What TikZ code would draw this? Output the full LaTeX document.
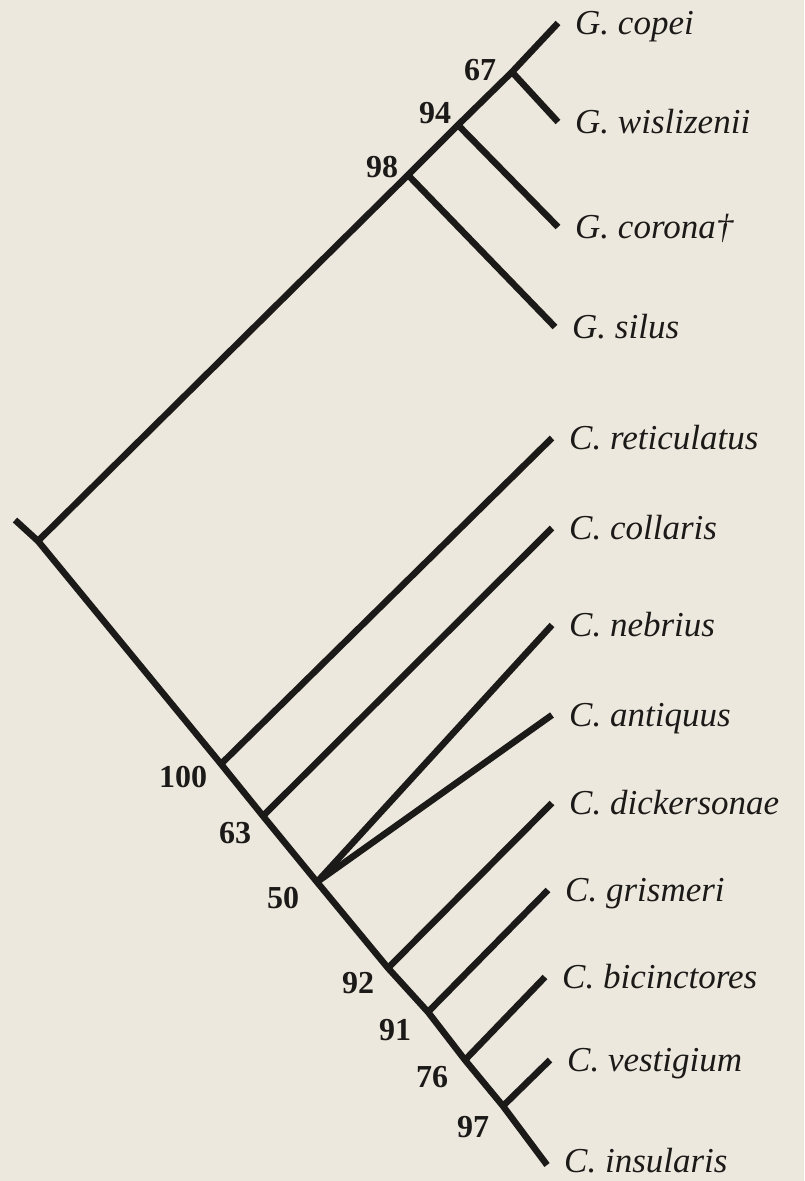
\documentclass[tikz,border=0pt]{standalone}
\usepackage{fontspec}
\setmainfont{Liberation Serif}
\definecolor{paper}{RGB}{236,232,221}
\definecolor{ink}{RGB}{28,26,24}

\tikzset{
	branch/.style={draw=ink, line width=6.5pt},
	taxon/.style={anchor=base west, inner sep=0pt, text=ink, font=\fontsize{35}{40}\selectfont\itshape},
	support/.style={inner sep=0pt, text=ink, font=\fontsize{32}{38}\selectfont\bfseries}
}

\begin{document}
\begin{tikzpicture}[x=1pt, y=-1pt]
\fill [paper] (0, 0) rectangle (804, 1181);
\useasboundingbox (0, 0) rectangle (804, 1181);
\coordinate (stub) at (15, 520);
\foreach \n/\x/\y/\dy/\t in {
	copei/558/23/11/G. copei,
	wislizenii/558/122/11/G. wislizenii,
	corona/558/227/11/G. corona†,
	silus/555/327/11/G. silus,
	reticulatus/552/438/11/C. reticulatus,
	collaris/552/528/11/C. collaris,
	nebrius/552/625/11/C. nebrius,
	antiquus/552/715/11/C. antiquus,
	dickersonae/552/803/11/C. dickersonae,
	grismeri/548/890/11/C. grismeri,
	bicinctores/545/977/11/C. bicinctores,
	vestigium/550/1060/11/C. vestigium,
	insularis/547/1165/7/C. insularis
	} {
	\coordinate (\n) at (\x, \y);
	\node [taxon] (l\n) at ([shift={(17, \dy)}]\n) {\t};
}
\foreach \n/\x/\y/\lx/\ly/\bs in {
	root/38/541/0/0/,
	g67/512/72/480/70/67,
	g94/458/125/435/113/94,
	g98/408/175/382/167/98,
	c100/221/764/183/777/100,
	c63/263/816/235/833/63,
	c50/317/882/283/898/50,
	c92/388/968/358/983/92,
	c91/428/1012/395/1030/91,
	c76/465/1060/432/1077/76,
	c97/503/1106/473/1127/97
	} {
	\coordinate (\n) at (\x, \y);
	\node [support] (s\n) at (\lx, \ly) {\bs};
}
\draw [branch] (stub) -- (root);
\draw [branch] (copei) -- (g67) -- (g94) -- (g98) -- (root) -- (c100) -- (c63) -- (c50) -- (c92) -- (c91) -- (c76) -- (c97) -- (insularis);
\foreach \a/\b in {g67/wislizenii, g94/corona, g98/silus, c100/reticulatus, c63/collaris, c50/nebrius, c50/antiquus, c92/dickersonae, c91/grismeri, c76/bicinctores, c97/vestigium} {
	\draw [branch] (\a) -- (\b);
}
\end{tikzpicture}
\end{document}
